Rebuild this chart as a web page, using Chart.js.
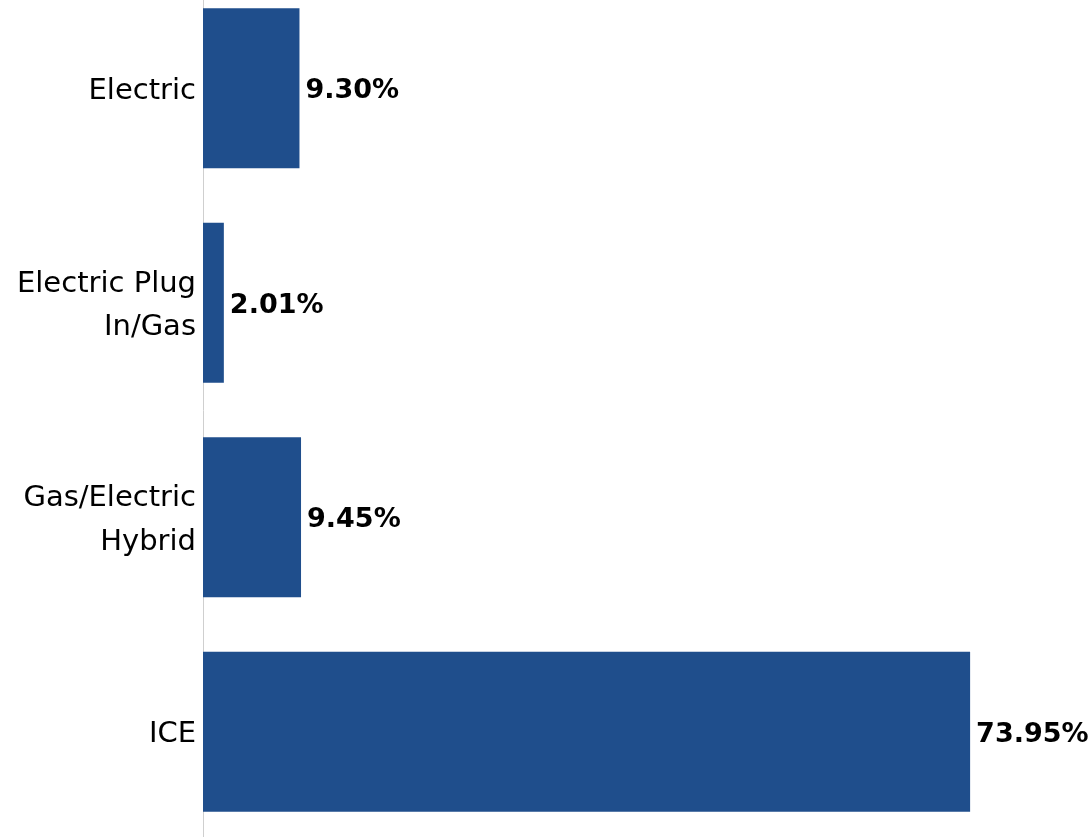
<!DOCTYPE html>
<html>
<head>
<meta charset="utf-8">
<script src="https://cdn.jsdelivr.net/npm/chart.js@4.4.0/dist/chart.umd.min.js"></script>
<style>
    html, body { margin: 0; padding: 0; background: #fff; overflow: hidden; }
    #wrap { position: absolute; left: 0; top: -19px; width: 1092px; height: 858px; }
</style>
</head>
<body>
<div id="wrap"><canvas id="shareChart"></canvas></div>
<script>
// Share of vehicles by fuel type
const categories = [['Electric'], ['Electric Plug', 'In/Gas'], ['Gas/Electric', 'Hybrid'], ['ICE']];
const shares = [9.30, 2.01, 9.45, 73.95];

const BAR_COLOR = '#1f4e8c';
const LABEL_FONT = 'DejaVu Sans';

// draw the percentage next to each bar
const valueLabels = {
    id: 'valueLabels',
    afterDatasetsDraw(chart) {
        const ctx = chart.ctx;
        const meta = chart.getDatasetMeta(0);
        ctx.save();
        ctx.font = 'bold 27px "' + LABEL_FONT + '"';
        ctx.fillStyle = '#000';
        ctx.textBaseline = 'middle';
        ctx.textAlign = 'left';
        meta.data.forEach((bar, i) => {
            ctx.fillText(shares[i].toFixed(2) + '%', bar.x + 6, bar.y + 3);
        });
        ctx.restore();
    }
};

new Chart(document.getElementById('shareChart'), {
    type: 'bar',
    data: {
        labels: categories,
        datasets: [{
            data: shares,
            backgroundColor: BAR_COLOR,
            borderWidth: 0,
            barPercentage: 0.747,
            categoryPercentage: 1
        }]
    },
    options: {
        indexAxis: 'y',
        responsive: true,
        maintainAspectRatio: false,
        animation: false,
        layout: { padding: 0 },
        plugins: {
            legend: { display: false },
            tooltip: { enabled: false }
        },
        scales: {
            x: {
                display: false,
                min: 0,
                max: 85.7
            },
            y: {
                afterFit(scale) {
                    // fixed axis width, no extra room for label overhang
                    scale.width = 203;
                    scale.paddingTop = 0;
                    scale.paddingBottom = 0;
                    // nudge the category labels down a little
                    if (!scale._nudged) {
                        const drawLabels = scale.drawLabels;
                        scale.drawLabels = function (area) {
                            this.ctx.save();
                            this.ctx.translate(0, 3);
                            drawLabels.call(this, area);
                            this.ctx.restore();
                        };
                        scale._nudged = true;
                    }
                },
                grid: { display: false, drawTicks: false },
                border: { display: true, color: '#cfcfcf', dash: [2, 2], width: 1 },
                ticks: {
                    padding: 7,
                    color: '#000',
                    font: { family: LABEL_FONT, size: 29, lineHeight: 1.5 }
                }
            }
        }
    },
    plugins: [valueLabels]
});
</script>
</body>
</html>
